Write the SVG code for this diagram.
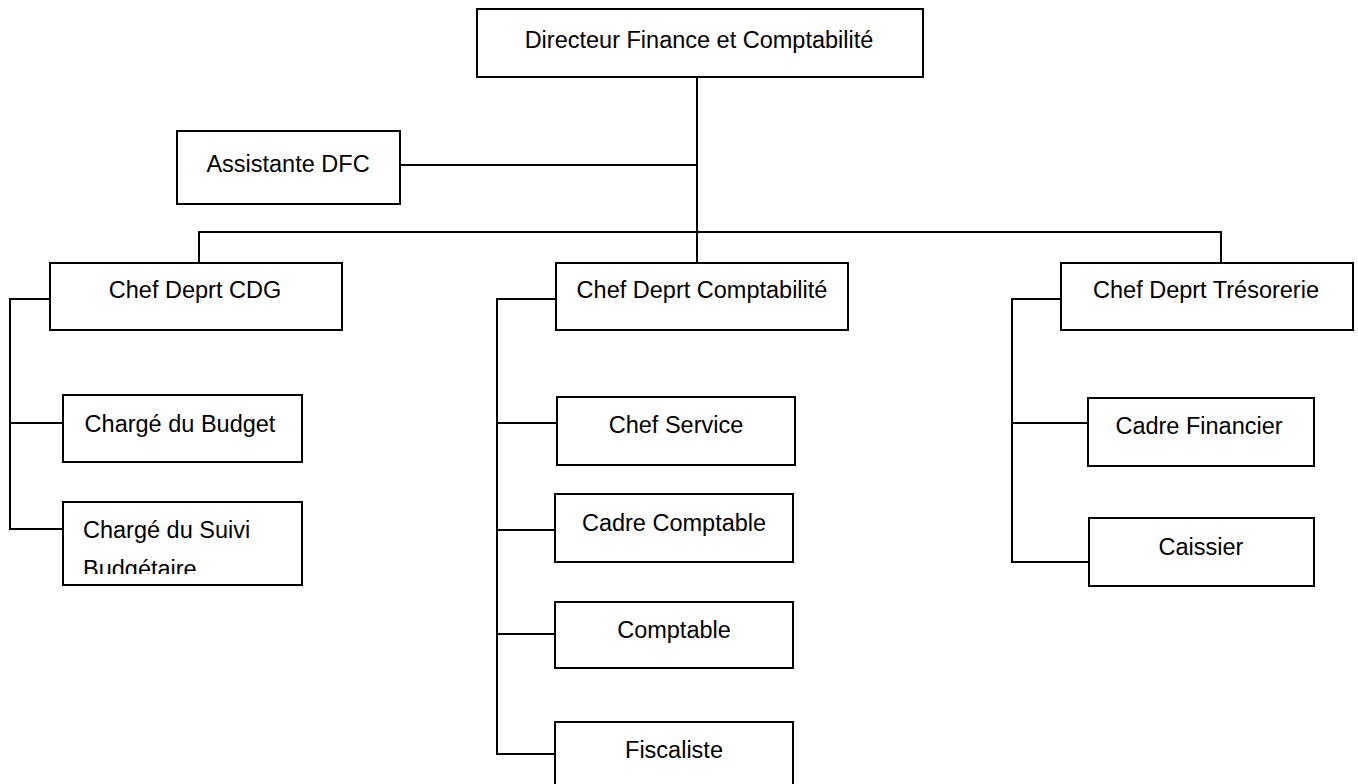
<svg xmlns="http://www.w3.org/2000/svg" width="1358" height="784" viewBox="0 0 1358 784">
<style>
.box{fill:#fff;stroke:#000;stroke-width:2}
.lbl{font-family:"Liberation Sans",Arial,sans-serif;font-size:23.5px;fill:#000;text-anchor:middle}
.lft{text-anchor:start}
.con{fill:none;stroke:#000;stroke-width:2}
</style>
<defs>
<clipPath id="suiviClip"><rect x="64" y="503" width="237" height="71"/></clipPath>
</defs>
<rect width="1358" height="784" fill="#fff"/>
<g id="connectors">
<path class="con" d="M697,77 V263"/>
<path class="con" d="M400,165 H697"/>
<path class="con" d="M199,263 V232 H1221 V263"/>
<path class="con" d="M50,299 H10 V529 H63 M10,423 H63"/>
<path class="con" d="M556,299 H497 V754 H555 M497,423 H557 M497,530 H555 M497,634 H555"/>
<path class="con" d="M1061,299 H1012 V562 H1089 M1012,423 H1088"/>
</g>
<g id="n-dfc"><rect class="box" x="477" y="9" width="446" height="68"/><text class="lbl" x="699" y="48">Directeur Finance et Comptabilité</text></g>
<g id="n-assistante"><rect class="box" x="177" y="131" width="223" height="73"/><text class="lbl" x="288" y="172">Assistante DFC</text></g>
<g id="n-cdg"><rect class="box" x="50" y="263" width="292" height="67"/><text class="lbl" x="195" y="298">Chef Deprt CDG</text></g>
<g id="n-compta"><rect class="box" x="556" y="263" width="292" height="67"/><text class="lbl" x="702" y="298">Chef Deprt Comptabilité</text></g>
<g id="n-treso"><rect class="box" x="1061" y="263" width="292" height="67"/><text class="lbl" x="1206" y="298">Chef Deprt Trésorerie</text></g>
<g id="n-budget"><rect class="box" x="63" y="395" width="239" height="67"/><text class="lbl" x="180" y="432">Chargé du Budget</text></g>
<g id="n-suivi"><rect class="box" x="63" y="502" width="239" height="83"/><g clip-path="url(#suiviClip)"><text class="lbl lft" x="83" y="538">Chargé du Suivi</text><text class="lbl lft" x="83" y="577">Budgétaire</text></g></g>
<g id="n-chefservice"><rect class="box" x="557" y="397" width="238" height="68"/><text class="lbl" x="676" y="433">Chef Service</text></g>
<g id="n-cadrecompta"><rect class="box" x="555" y="494" width="238" height="68"/><text class="lbl" x="674" y="531">Cadre Comptable</text></g>
<g id="n-comptable"><rect class="box" x="555" y="602" width="238" height="66"/><text class="lbl" x="674" y="638">Comptable</text></g>
<g id="n-fiscaliste"><rect class="box" x="555" y="722" width="238" height="80"/><text class="lbl" x="674" y="758">Fiscaliste</text></g>
<g id="n-cadrefin"><rect class="box" x="1088" y="398" width="226" height="68"/><text class="lbl" x="1199" y="434">Cadre Financier</text></g>
<g id="n-caissier"><rect class="box" x="1089" y="518" width="225" height="68"/><text class="lbl" x="1201" y="555">Caissier</text></g>
</svg>
